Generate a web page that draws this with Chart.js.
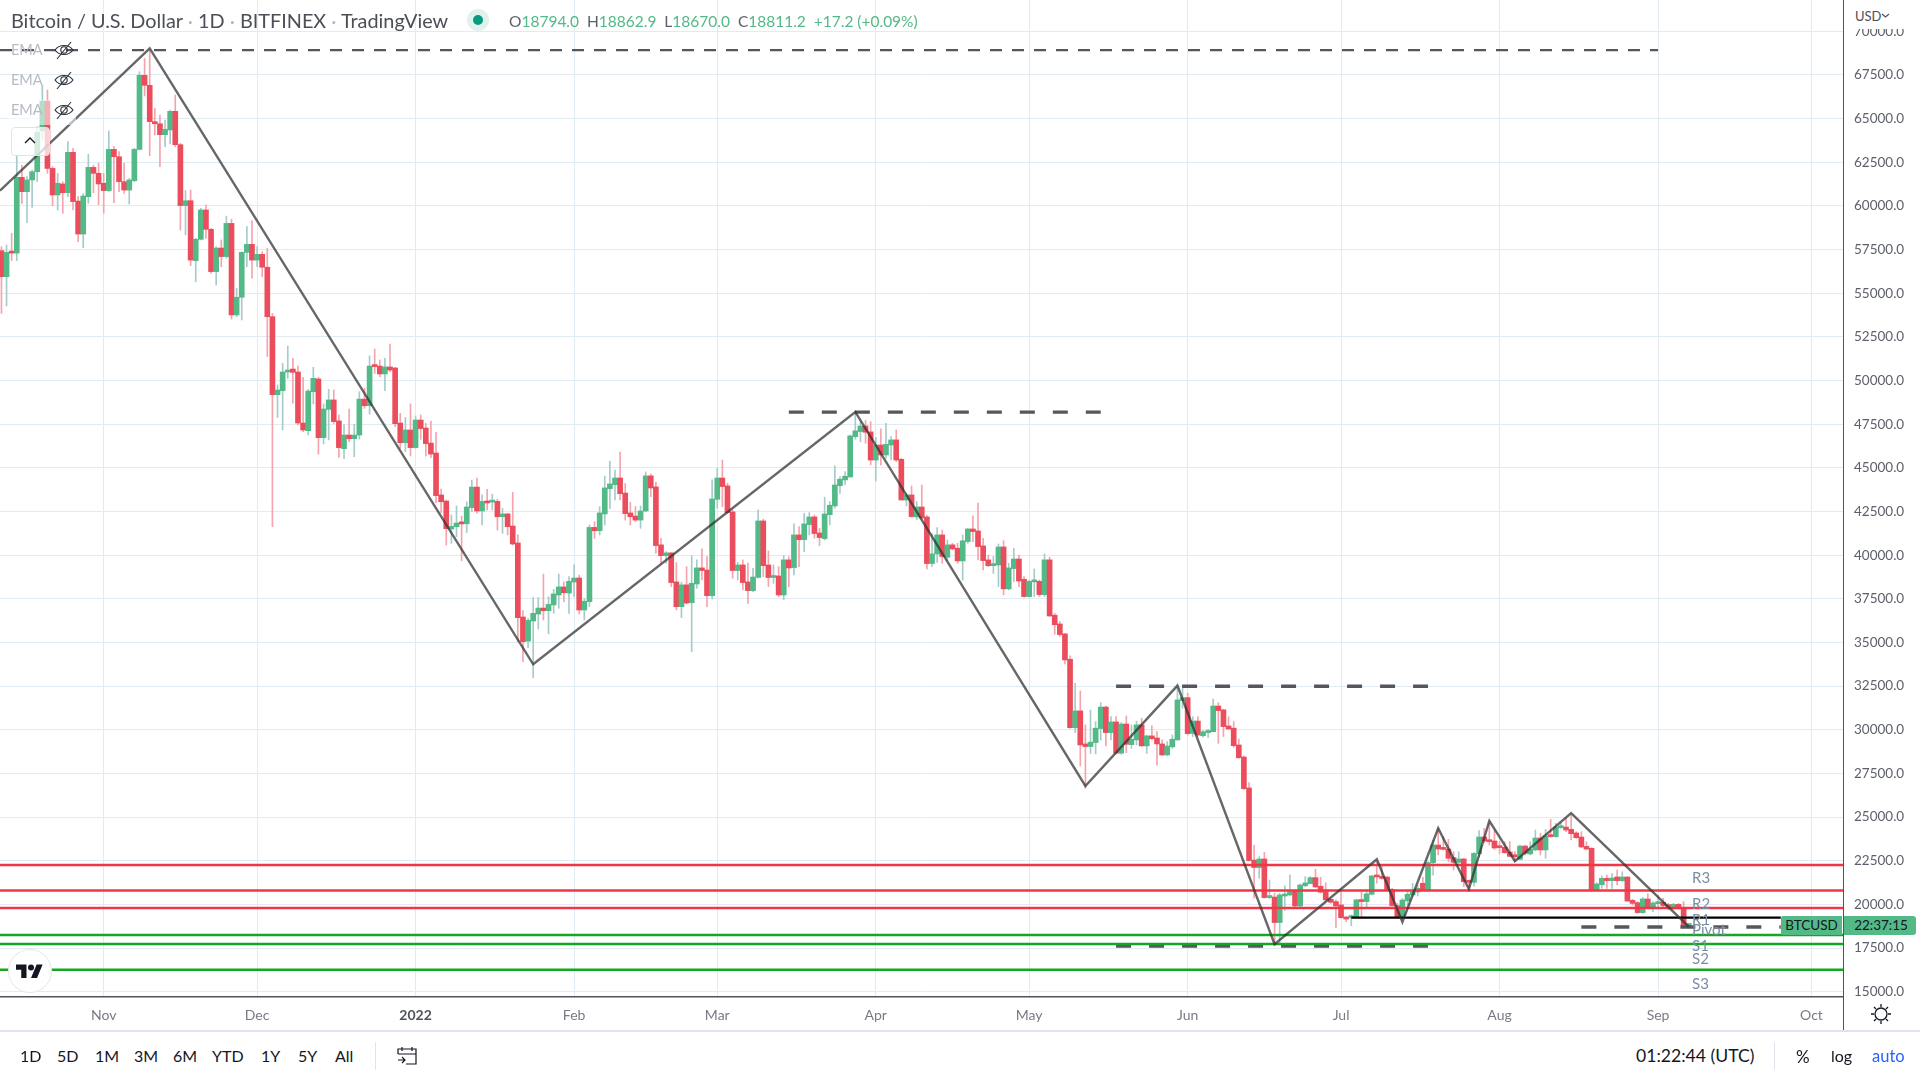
<!DOCTYPE html>
<html><head><meta charset="utf-8"><title>Bitcoin / U.S. Dollar</title>
<style>
html,body{margin:0;padding:0;background:#fff;width:1920px;height:1080px;overflow:hidden;font-family:Lato,"Open Sans",sans-serif}
#c{position:absolute;left:0;top:0}
.t{position:absolute;white-space:nowrap;line-height:1}
.lv{position:absolute;left:1692px;font-size:15px;color:#7c8ea3;line-height:1;transform:translateY(-50%)}
.ema{position:absolute;left:11px;font-size:14.5px;color:#b8bbc4;line-height:1;transform:translateY(-50%)}
.bt{position:absolute;top:1048px;font-size:16px;color:#131722;line-height:1}
</style></head><body>
<canvas id="c" width="1920" height="1031"></canvas>

<div style="position:absolute;left:8px;top:100px;width:68px;height:25px;background:rgba(255,255,255,.55)"></div>
<div class="t" id="title" style="left:11px;top:11px;font-size:19.85px;color:#4c4f58">Bitcoin / U.S. Dollar<span style="color:#b2b5be"> · </span>1D<span style="color:#b2b5be"> · </span>BITFINEX<span style="color:#b2b5be"> · </span>TradingView</div>
<div style="position:absolute;left:467px;top:9px;width:22px;height:22px;border-radius:50%;background:#dff2ee"></div>
<div style="position:absolute;left:473px;top:15px;width:10px;height:10px;border-radius:50%;background:#089981"></div>
<div class="t" id="ohlc" style="left:509px;top:13.5px;font-size:15.5px;color:#53b987"><span style="color:#5d606b">O</span>18794.0&nbsp; <span style="color:#5d606b">H</span>18862.9&nbsp; <span style="color:#5d606b">L</span>18670.0&nbsp; <span style="color:#5d606b">C</span>18811.2&nbsp; +17.2 (+0.09%)</div>

<div class="ema" style="top:50px">EMA</div><div class="ema" style="top:80px">EMA</div><div class="ema" style="top:110px">EMA</div>
<svg style="position:absolute;left:53px;top:40px" width="22" height="80" viewBox="0 0 22 80" fill="none" stroke="#2a2e39" stroke-width="1.1">
<g id="eye"><path d="M2 10c4-6 14-6 18 0c-4 6-14 6-18 0z"/><circle cx="11" cy="10" r="3.2"/><path d="M4 19L18 2"/></g>
<use href="#eye" y="30"/><use href="#eye" y="60"/></svg>
<div style="position:absolute;left:11px;top:127px;width:37px;height:27px;border:1px solid #e0e3eb;border-radius:4px;background:rgba(255,255,255,.75)"></div>
<svg style="position:absolute;left:23px;top:136px" width="14" height="9" fill="none" stroke="#131722" stroke-width="1.4"><path d="M2 7l5-5l5 5"/></svg>

<div class="lv" style="top:877px">R3</div><div class="lv" style="top:903px">R2</div><div class="lv" style="top:919px">R1</div><div class="lv" style="top:929px">Pivot</div><div class="lv" style="top:945px">S1</div><div class="lv" style="top:958px">S2</div><div class="lv" style="top:983px">S3</div>

<div style="position:absolute;left:1781px;top:916px;width:61px;height:19px;background:#53b987;border-radius:2px 0 0 2px;color:#131722;font-size:13.5px;line-height:19px;text-align:center">BTCUSD</div>
<div style="position:absolute;left:1844px;top:916px;width:72px;height:19px;background:#53b987;border-radius:0 3px 3px 0;color:#131722;font-size:13.5px;line-height:19px;text-align:center;text-indent:2px">22:37:15</div>

<div style="position:absolute;left:8px;top:949px;width:42px;height:42px;border-radius:50%;background:#fff;border:1px solid #e6e6e6"></div>
<svg style="position:absolute;left:16px;top:961px" width="27" height="19" viewBox="0 0 36 24"><path d="M14 22H7V11H0V4h14v18zM28 22h-8l7.5-18h8L28 22z" fill="#131722"/><circle cx="20" cy="8" r="4" fill="#131722"/></svg>

<div style="position:absolute;left:1844px;top:0;width:76px;height:29px;background:#fff"></div>
<div class="t" style="left:1855px;top:10px;font-size:13px;color:#4c4f58">USD</div>
<svg style="position:absolute;left:1881px;top:13px" width="9" height="6" fill="none" stroke="#4c4f58" stroke-width="1.2"><path d="M1 1l3.5 3l3.5-3"/></svg>

<div style="position:absolute;left:1842.5px;top:0;width:1.5px;height:1031px;background:#50535e"></div>
<div style="position:absolute;left:0;top:1030px;width:1920px;height:2px;background:#e0e3eb"></div>
<svg style="position:absolute;left:1870px;top:1003px" width="22" height="22" viewBox="0 0 22 22" fill="none" stroke="#131722" stroke-width="1.3"><circle cx="11" cy="11" r="6"/><path d="M11 1v3M11 18v3M1 11h3M18 11h3M4 4l2 2M16 16l2 2M4 18l2-2M16 6l2-2"/></svg>

<div class="bt" style="left:20px">1D</div><div class="bt" style="left:57px">5D</div><div class="bt" style="left:95px">1M</div><div class="bt" style="left:134px">3M</div><div class="bt" style="left:173px">6M</div><div class="bt" style="left:212px">YTD</div><div class="bt" style="left:261px">1Y</div><div class="bt" style="left:298px">5Y</div><div class="bt" style="left:335px">All</div>
<div style="position:absolute;left:375px;top:1042px;width:1px;height:28px;background:#e0e3eb"></div>
<svg style="position:absolute;left:396px;top:1045px" width="22" height="22" viewBox="0 0 22 22" fill="none" stroke="#131722" stroke-width="1.2"><path d="M2 9V4h18v15H10M2 9h18M6 2v4M16 2v4M2 15h7M6 12l3 3l-3 3"/></svg>
<div class="bt" style="left:1636px;top:1047px;font-size:17.6px">01:22:44 (UTC)</div>
<div style="position:absolute;left:1774px;top:1042px;width:1px;height:28px;background:#e0e3eb"></div>
<div class="bt" style="left:1796px;font-size:17px">%</div><div class="bt" style="left:1831px">log</div><div class="bt" style="left:1872px;color:#2962ff;font-size:16.5px">auto</div>

<script src="https://cdn.jsdelivr.net/npm/chart.js@4/dist/chart.umd.js"></script>
<script>
// Day numbers count from 1 Nov 2021 = 0.
const firstDay = -20;
const viewStartDay = -20.28, viewEndDay = 340.17;
const viewMinPrice = 14696, viewMaxPrice = 71795;

const priceTicks = [15000,17500,20000,22500,25000,27500,30000,32500,35000,37500,40000,42500,45000,47500,50000,52500,55000,57500,60000,62500,65000,67500,70000];
const monthDays = [0,30,61,92,120,151,181,212,242,273,304,334];
const monthLabels = ['Nov','Dec','2022','Feb','Mar','Apr','May','Jun','Jul','Aug','Sep','Oct'];
const yearTickDay = 61;

const opens = [
57440,55950,57340,57300,61640,60820,61490,61960,64300,66010,
62150,60630,61260,60760,63070,60280,58390,60530,62210,61870,
61300,60880,63240,62820,61390,60910,61450,63240,67480,66910,
64830,64710,64080,64350,65420,63510,60020,60300,56870,58090,
59770,58660,56240,57590,57100,59000,53760,54770,57340,57800,
56900,57230,56490,53660,49190,49420,50490,50660,50490,47570,
47130,49360,50090,46730,48350,48890,47690,46100,46880,46670,
46880,48940,48560,50830,50830,50380,50780,50720,47570,46440,
47170,46160,47740,47280,46420,45850,43450,43100,41500,41630,
41840,41800,42720,43900,42530,43080,43040,43080,42200,42360,
41670,40700,36460,35080,36230,36630,36970,36820,37150,37720,
38180,37830,38460,38690,36860,37340,41590,41400,42360,43810,
44040,44420,43560,42420,42240,42010,42530,44540,43910,40590,
39970,40130,38470,37050,38300,37280,38350,39270,39150,37680,
43200,44420,43970,42480,39120,39440,38470,37970,38730,41960,
39440,38720,38810,37720,39730,39290,41160,40890,41750,42190,
41270,40950,42320,42820,43980,44310,44480,46790,47080,47400,
47060,45450,46310,45740,46310,46600,45490,43160,43450,42190,
42760,42190,39520,40070,41160,39880,40590,40400,39670,40780,
41500,41390,40530,39730,39400,39440,40470,38070,39230,39780,
38620,37630,38470,38500,37740,39730,36560,36060,35490,34040,
30120,31080,29190,29040,29270,30070,31300,29840,30450,28660,
30330,29150,29420,30280,29080,29650,29530,29190,28560,29020,
29420,31670,31840,29790,30500,29660,29840,29890,31360,31140,
30220,30090,29130,28440,26670,22540,22110,22600,20390,20420,
18960,20480,20540,20770,19910,21070,21190,21530,21040,20730,
20290,20160,19970,19280,19240,19280,20260,20160,20580,21630,
21590,21570,20860,19930,19260,20210,20540,20710,21210,20820,
22390,23400,23210,23170,22680,22410,22600,21340,21260,22900,
23860,23670,23630,23270,23270,23000,22770,22580,23340,22890,
23120,23800,23120,23950,23880,24390,24430,24300,24090,23860,
23320,23210,20840,21130,21490,21360,21570,21360,21570,20230,
20100,19530,20310,19850,20040,20120,19960,19850,20000,19830,18794];
const highs = [
57670,57760,58430,62860,62340,61680,62060,64540,66930,66640,
62250,61870,61390,63680,63300,60530,60720,62960,62340,62440,
61870,64290,63400,63110,62440,61580,63300,67690,68450,68930,
65590,65210,64920,65490,66350,63590,60880,60910,58150,59860,
60060,58720,57670,58050,59420,59240,55280,57380,58820,59160,
57670,57380,57570,53850,49750,50990,51980,51270,50830,50190,
49500,50760,50190,48660,49500,49460,48030,47460,48370,47490,
49360,49560,51410,51810,51180,51270,52090,50760,48120,47890,
48660,47970,48030,47550,47680,47030,43790,43160,42300,42820,
42240,43060,44300,44420,43450,43770,43500,43200,42680,42400,
43600,41160,36820,36380,37580,37580,38920,37620,38040,38920,
38480,38770,39440,38860,37530,41730,41920,42780,44530,45390,
44880,45910,44110,43030,42780,42820,44770,44650,44190,40970,
40200,40150,39570,38450,39340,39960,39730,40360,39920,44310,
44980,45450,44120,42590,39590,39730,39540,39250,42590,42060,
40240,39440,39340,39980,39920,41790,41640,42400,42440,42300,
41540,43320,43070,45110,44500,44790,46880,48090,47650,47710,
47650,46750,47230,47550,46790,47170,45550,43540,43960,43070,
44020,42300,41250,41580,41440,40870,40680,40680,41160,41540,
42250,42990,40970,40010,39920,40640,40830,39540,40400,40010,
38770,38580,39210,38580,40070,39880,36670,36200,35530,34230,
32660,32220,30280,31130,30470,31550,31360,30750,30750,30410,
30790,30280,30500,30660,29700,30220,29890,29420,29320,29700,
32470,32380,32090,30750,30750,29950,30030,31760,31550,31180,
30750,30470,29470,28500,26980,23400,22740,22980,21400,20640,
20640,21060,21690,20820,21170,21590,21590,22010,21550,21240,
20330,20260,20730,19300,19400,20290,20730,20820,21660,22450,
22260,21590,20920,20060,20350,20770,21210,21110,21550,22450,
23690,24360,23880,23720,23020,23020,22640,21400,22960,24220,
24360,24640,24260,23590,23590,23590,23020,23400,23400,23590,
24260,24070,24300,24870,24640,24640,24930,25120,24160,24160,
23590,23250,21240,21630,21680,21780,21970,21870,21590,20290,
20160,20400,20600,20160,20540,20350,20060,20060,20060,20160,18862.9];
const lows = [
53850,54270,56870,56870,60150,59040,59920,61390,63780,61870,
60000,59770,59580,60530,59770,57950,57610,60150,60760,60060,
59580,60820,60190,60820,60720,60110,61390,63200,66300,62880,
64060,62250,63400,63550,63400,58620,58340,56580,55660,58050,
58140,56140,55470,56520,57000,53520,53660,53470,56520,55860,
56520,55950,51370,41630,47880,47170,50130,48700,47460,47070,
46880,48660,45790,46370,46600,47550,45600,45530,46500,45640,
46650,48410,48080,50410,50220,49420,50510,47360,46120,45930,
45680,46120,46630,45680,45580,43010,42430,40580,40680,41060,
39680,41290,42490,42400,41730,42590,42590,41440,41250,41160,
40580,35050,33900,34700,32980,35770,36290,35490,36670,36960,
37340,36670,37620,36630,36290,37050,40960,41160,41730,42680,
43160,43160,42010,41730,41920,41540,42500,43350,40110,39540,
39540,38200,36860,36420,37210,34480,38100,38580,37050,37490,
42690,42780,42400,38680,38580,38010,37240,37910,38680,38770,
38200,38390,37630,37440,38200,38870,39340,40200,41160,40970,
40550,40870,41730,42690,43540,44020,44460,46640,46500,46410,
45170,44250,45170,45550,45450,45360,43160,42820,42170,42020,
42060,39210,39340,39590,39540,39700,40300,39540,38580,40680,
40780,39730,39150,39340,38960,38200,37720,38010,38490,38200,
37590,37590,37630,37630,37630,36480,35470,35340,33770,30090,
29840,27930,26650,28650,28620,29420,29070,29420,28620,28600,
28690,28940,29130,29040,28650,29420,27980,28520,28520,28940,
29400,31230,29700,29610,29640,29570,29550,29880,29220,29610,
29990,29000,28360,26590,22470,20350,21490,20350,20330,17770,
17770,19640,20480,19870,19870,21010,21170,20960,20660,20220,
20060,18670,19200,19010,18780,19260,19300,19870,20540,21210,
21450,20790,19890,19220,19200,19960,20440,20480,20790,20790,
21680,22830,23120,22450,21970,22350,21010,20920,21050,22730,
23540,23400,23150,22920,22920,22730,22450,22540,22830,22830,
23080,22830,22640,23840,23840,24360,24160,23690,23780,23250,
23120,20770,20820,20920,20920,20920,21110,21300,20160,19960,
19490,19490,19770,19580,19770,19870,19680,19720,19720,18720,18670];
const closes = [
55950,57340,57300,61640,60820,61490,61960,64220,66010,62150,
60630,61300,60760,63070,60250,58390,60570,62210,61870,61260,
60880,63240,62820,61390,60910,61490,63240,67480,66910,64830,
64710,64080,64390,65420,63510,60020,60300,56900,58090,59770,
58660,56240,57590,57100,59000,53760,54770,57340,57800,56900,
57230,56490,53660,49190,49460,50490,50600,50470,47570,47170,
49400,50130,46730,48370,48890,47650,46160,46880,46670,46880,
48940,48560,50830,50800,50380,50780,50600,47530,46440,47170,
46160,47740,47250,46390,45790,43410,43060,41520,41650,41840,
41790,42760,43900,42530,43080,42990,43080,42200,42360,41630,
40640,36420,35050,36270,36670,36970,36820,37180,37780,38180,
37850,38500,38690,36860,37360,41590,41400,42420,43850,44080,
44420,43520,42380,42200,42010,42530,44540,43850,40550,39970,
40130,38430,37050,38300,37260,38390,39270,39120,37680,43220,
44420,43930,42440,39120,39440,38430,37970,38750,41960,39400,
38720,38810,37720,39730,39270,41160,40890,41790,42190,41240,
41010,42360,42860,44020,44350,44520,46830,47120,47400,47040,
45450,46310,45740,46350,46600,45450,43160,43450,42210,42760,
42130,39520,40070,41160,39920,40590,40360,39670,40820,41500,
41350,40490,39690,39400,39500,40470,38070,39270,39780,38520,
37630,38500,38500,37740,39730,36520,36020,35450,34000,30120,
31080,29130,29040,29290,30090,31300,29840,30450,28660,30330,
29170,29460,30280,29080,29650,29490,29190,28560,29070,29460,
31710,31840,29780,30500,29700,29890,29950,31360,31100,30180,
30050,29090,28400,26630,22510,22110,22600,20390,20420,18960,
20540,20540,20730,19910,21110,21230,21530,21000,20700,20260,
20120,19910,19240,19160,19320,20260,20160,20600,21630,21570,
21490,20830,19930,19260,20250,20580,20710,20920,20820,22390,
23400,23170,23150,22640,22410,22600,21300,21260,22920,23860,
23630,23590,23230,23250,22960,22750,22730,23340,22920,23150,
23800,23120,23920,23880,24430,24450,24260,24050,23820,23290,
23170,20790,21170,21490,21360,21510,21360,21570,20190,20060,
19530,20310,19830,20080,20120,19930,19870,20000,19830,18790,18811.2];

const zigzagDays   = [-20.28,9,84,147,192,210,229,249,254,261,267,271,276,287,310];
const zigzagPrices = [60876,69030,33750,48200,26780,32530,17720,22580,18990,24360,20880,24780,22470,25230,18720];

const resistanceLevels = [22260,20790,19800];
const supportLevels = [18250,17735,16260];
const pivotLevel = 19240, pivotStartDay = 244, pivotEndDay = 328;

const topDash = {price:68930, from:-20.28, to:304};
const midDashes = [
  {price:48190, from:134, to:195},
  {price:32490, from:198, to:259},
  {price:17620, from:198, to:259},
  {price:18705, from:289, to:328}
];

const GREEN='#53b987', RED='#eb4d5c', WICK_G='#a6cbca', WICK_R='#f5a4ac', GRID='#e0ebf2', DASH='#55575c';
const days = opens.map((_,i)=>firstDay+i);
const up = opens.map((o,i)=>closes[i]>=o);
const hline = (y,a,b)=>[{x:a,y},{x:b,y}];
const lineDs = (data,color,width,dash,order)=>({type:'line',data,borderColor:color,borderWidth:width,borderDash:dash||[],pointRadius:0,tension:0,fill:false,order:order});
const isYear = c => !!(c.tick && c.tick.value===yearTickDay);

const datasets = [
  {label:'wicks',data:days.map((d,i)=>({x:d,y:[lows[i],highs[i]]})),backgroundColor:up.map(u=>u?WICK_G:WICK_R),barThickness:1,grouped:false,order:6},
  {label:'bodies',data:days.map((d,i)=>({x:d,y:[opens[i],closes[i]]})),backgroundColor:up.map(u=>u?GREEN:RED),barThickness:5,minBarLength:2,grouped:false,order:5},
  lineDs(hline(topDash.price,topDash.from,topDash.to),DASH,2.3,[12,10],3),
  ...midDashes.map(m=>lineDs(hline(m.price,m.from,m.to),DASH,3.4,[15,18],3)),
  ...resistanceLevels.map(p=>lineDs(hline(p,viewStartDay,viewEndDay),'#f23645',2.5,null,2)),
  ...supportLevels.map(p=>lineDs(hline(p,viewStartDay,viewEndDay),'#14a722',2.5,null,2)),
  lineDs(hline(pivotLevel,pivotStartDay,pivotEndDay),'#000000',2.3,null,2),
  lineDs(zigzagDays.map((d,i)=>({x:d,y:zigzagPrices[i]})),'rgba(50,50,50,0.74)',2.4,null,1)
];

new Chart(document.getElementById('c'),{
  type:'bar',
  data:{datasets},
  options:{
    responsive:false,animation:false,events:[],
    layout:{padding:0},
    plugins:{legend:{display:false},tooltip:{enabled:false}},
    scales:{
      x:{type:'linear',min:viewStartDay,max:viewEndDay,offset:false,
        grid:{offset:false,color:GRID,lineWidth:1,drawTicks:false},
        border:{color:'#50535e',width:1.5},
        afterBuildTicks(s){s.ticks=monthDays.map(v=>({value:v}));},
        afterFit(s){s.height=34;s.paddingLeft=s.paddingRight=s.paddingTop=s.paddingBottom=0;},
        ticks:{autoSkip:false,maxRotation:0,padding:10,
          color:c=>isYear(c)?'#50535e':'#787b86',
          font:c=>({family:'Lato',size:14,weight:isYear(c)?'bold':'normal'}),
          callback:v=>monthLabels[monthDays.indexOf(v)]}
      },
      y:{type:'linear',position:'right',min:viewMinPrice,max:viewMaxPrice,
        grid:{color:GRID,lineWidth:1,drawTicks:false},
        border:{display:false},
        afterBuildTicks(s){s.ticks=priceTicks.map(v=>({value:v}));},
        afterFit(s){s.width=77;s.paddingLeft=s.paddingRight=s.paddingTop=s.paddingBottom=0;},
        ticks:{autoSkip:false,padding:11,color:'#5d606b',font:{family:'Lato',size:13.5},crossAlign:'near',
          callback:v=>v.toFixed(1)}
      }
    }
  }
});
</script>
</body></html>
